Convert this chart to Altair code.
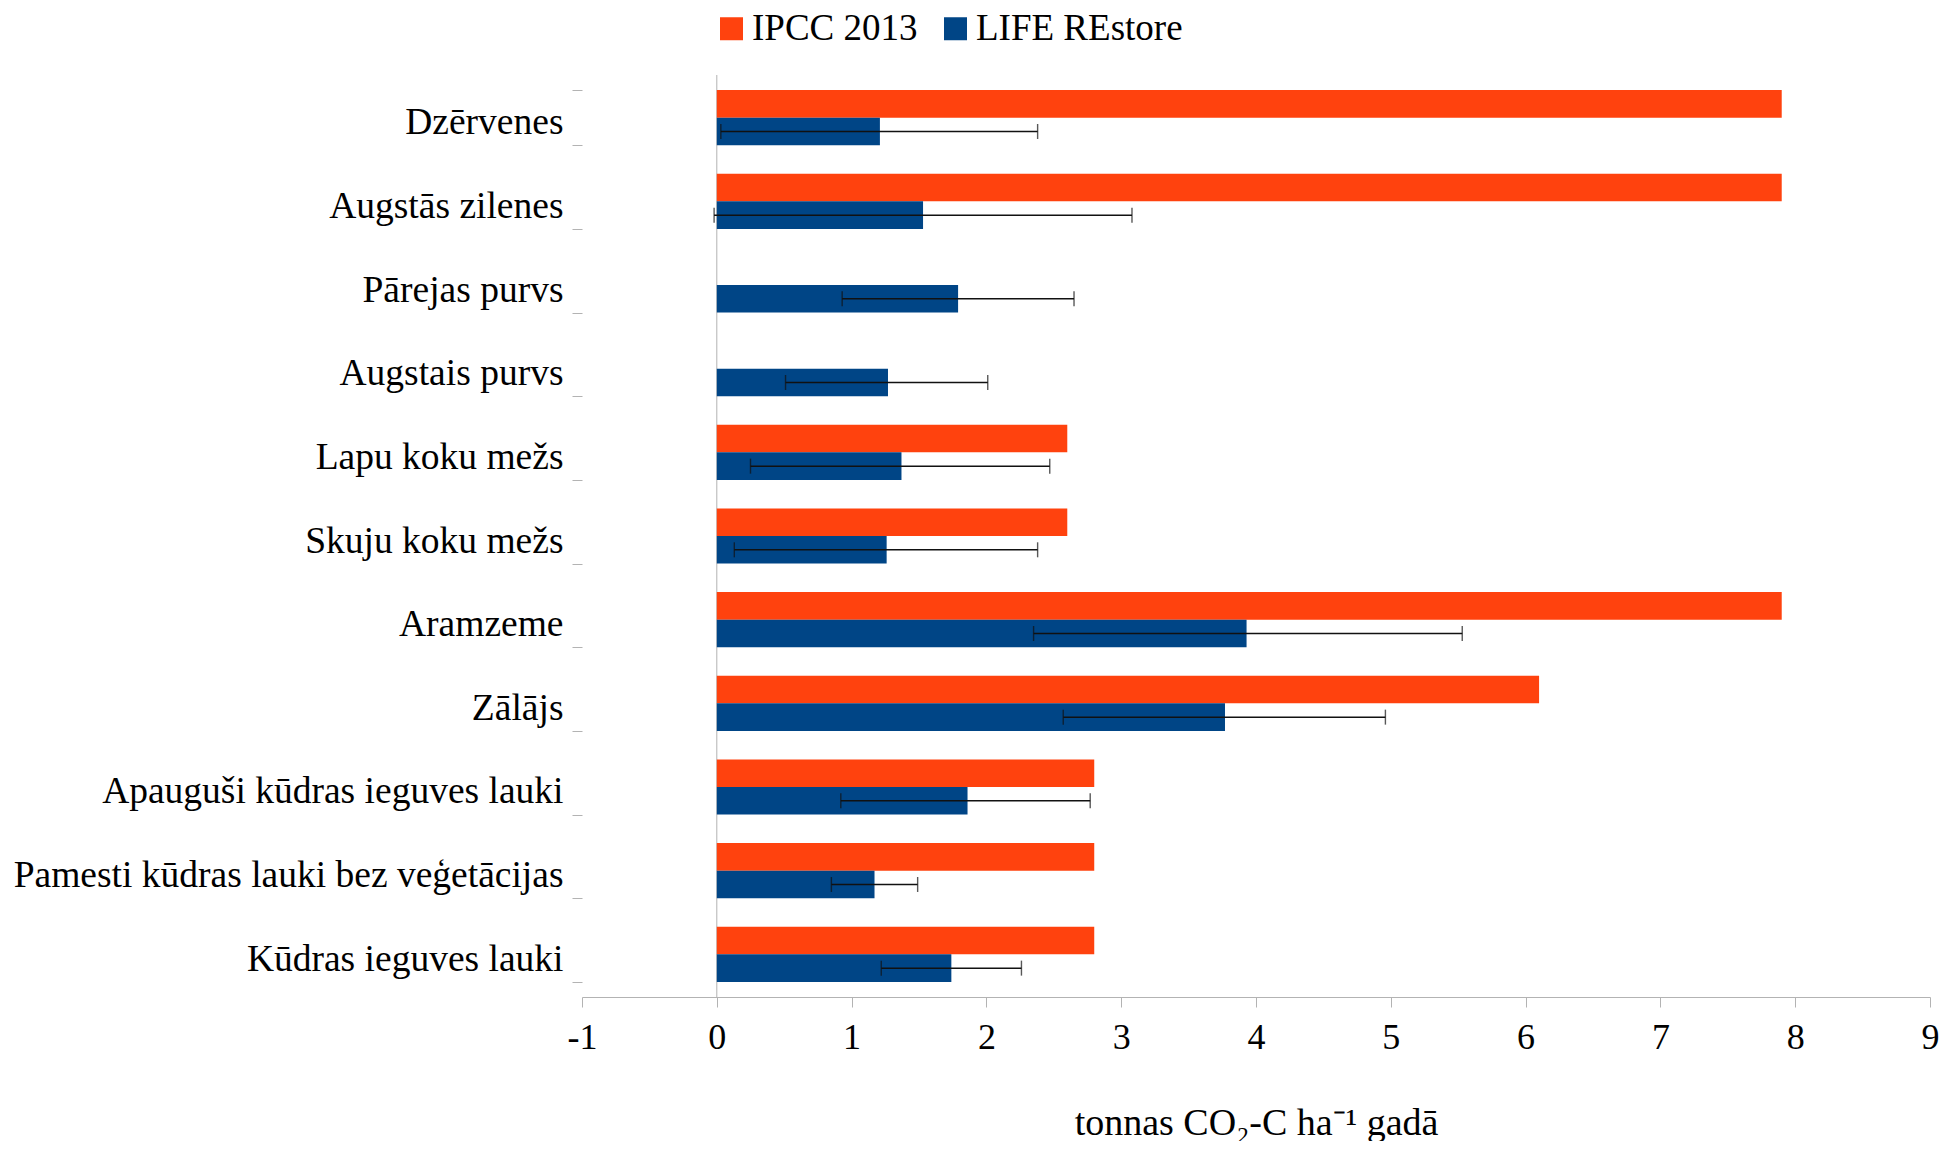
import altair as alt
import pandas as pd

categories = [
    "Dzērvenes",
    "Augstās zilenes",
    "Pārejas purvs",
    "Augstais purvs",
    "Lapu koku mežs",
    "Skuju koku mežs",
    "Aramzeme",
    "Zālājs",
    "Apauguši kūdras ieguves lauki",
    "Pamesti kūdras lauki bez veģetācijas",
    "Kūdras ieguves lauki",
]
series_names = ["IPCC 2013", "LIFE REstore"]
ipcc_values = [7.9, 7.9, None, None, 2.6, 2.6, 7.9, 6.1, 2.8, 2.8, 2.8]
life_values = [1.21, 1.53, 1.79, 1.27, 1.37, 1.26, 3.93, 3.77, 1.86, 1.17, 1.74]
life_err_low = [0.03, -0.02, 0.93, 0.51, 0.25, 0.13, 2.35, 2.57, 0.92, 0.85, 1.22]
life_err_high = [2.38, 3.08, 2.65, 2.01, 2.47, 2.38, 5.53, 4.96, 2.77, 1.49, 2.26]
x_ticks = [-1, 0, 1, 2, 3, 4, 5, 6, 7, 8, 9]
colors = ["#FF420E", "#004586"]

FONT = "Liberation Serif"

rows = []
for c, v in zip(categories, ipcc_values):
    if v is not None:
        rows.append({"cat": c, "series": series_names[0], "value": v})
for c, v in zip(categories, life_values):
    rows.append({"cat": c, "series": series_names[1], "value": v})
bars_df = pd.DataFrame(rows)

err_df = pd.DataFrame({
    "cat": categories,
    "series": series_names[1],
    "low": life_err_low,
    "high": life_err_high,
})
zero_df = pd.DataFrame({"x": [0]})

y_enc = alt.Y(
    "cat:N",
    sort=categories,
    scale=alt.Scale(paddingInner=0.34, paddingOuter=0.18),
    axis=alt.Axis(
        title=None,
        domain=False,
        ticks=True,
        tickBand="extent",
        tickSize=10,
        tickColor="#b3b3b3",
        labelFont=FONT,
        labelFontSize=37.5,
        labelColor="black",
        labelPadding=9,
        labelOffset=5,
        labelLimit=1000,
    ),
)
yoff_enc = alt.YOffset("series:N", sort=series_names, scale=alt.Scale(domain=series_names, paddingInner=0, paddingOuter=0))

x_scale = alt.Scale(domain=[-1, 9], nice=False, zero=False)
x_axis = alt.Axis(
    values=x_ticks,
    format="d",
    grid=False,
    domainColor="#b3b3b3",
    tickColor="#b3b3b3",
    tickSize=10,
    labelFont=FONT,
    labelFontSize=36,
    labelColor="black",
    labelPadding=13,
    labelFlush=False,
    labelExpr="replace(datum.label, '−', '-')",
    title="tonnas CO₂-C ha⁻¹ gadā",
    titleFont=FONT,
    titleFontSize=38,
    titleFontWeight="normal",
    titleColor="black",
    titlePadding=49,
)

zero_rule = alt.Chart(zero_df).mark_rule(color="#b3b3b3", strokeWidth=1).encode(
    x=alt.X("x:Q", scale=x_scale, axis=x_axis)
)

bars = alt.Chart(bars_df).mark_bar().encode(
    y=y_enc,
    yOffset=yoff_enc,
    x=alt.X("value:Q", scale=x_scale, axis=x_axis),
    color=alt.Color(
        "series:N",
        scale=alt.Scale(domain=series_names, range=colors),
        legend=alt.Legend(
            title=None,
            orient="none",
            legendX=131,
            legendY=-65,
            direction="horizontal",
            symbolType="square",
            symbolSize=529,
            symbolStrokeWidth=0,
            labelFont=FONT,
            labelFontSize=37,
            labelColor="black",
            labelOffset=2,
            columnPadding=19,
            padding=0,
            labelLimit=1000,
        ),
    ),
)

ERR_COLOR = "#111111"
err_line = alt.Chart(err_df).mark_rule(color=ERR_COLOR, strokeWidth=1.5).encode(
    y=alt.Y("cat:N", sort=categories),
    yOffset=alt.YOffset("series:N", sort=series_names),
    x=alt.X("low:Q", scale=x_scale),
    x2="high:Q",
)
cap_low = alt.Chart(err_df).mark_tick(color=ERR_COLOR, size=15, thickness=1.4).encode(
    y=alt.Y("cat:N", sort=categories),
    yOffset=alt.YOffset("series:N", sort=series_names),
    x=alt.X("low:Q", scale=x_scale),
)
cap_high = alt.Chart(err_df).mark_tick(color=ERR_COLOR, size=15, thickness=1.4).encode(
    y=alt.Y("cat:N", sort=categories),
    yOffset=alt.YOffset("series:N", sort=series_names),
    x=alt.X("high:Q", scale=x_scale),
)

chart = alt.layer(zero_rule, bars, err_line, cap_low, cap_high).properties(
    width=1348,
    height=922,
    background="white",
    autosize=alt.AutoSizeParams(type="none"),
    padding={"left": 574, "top": 67, "right": 19, "bottom": 144},
).configure_view(strokeWidth=0, stroke="transparent")

chart.save("out.html", embed_options={"renderer": "svg", "actions": False})
